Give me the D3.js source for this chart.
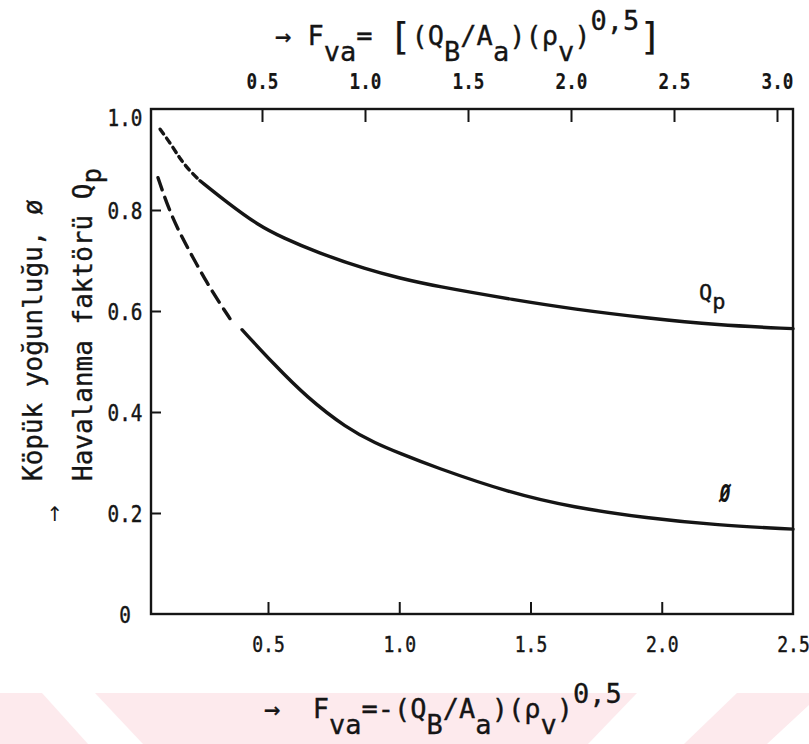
<!DOCTYPE html>
<html>
<head>
<meta charset="utf-8">
<script src="https://cdn.jsdelivr.net/npm/d3@7"></script>
<style>
  html, body { margin: 0; padding: 0; background: #fff; }
  svg { display: block; }
</style>
</head>
<body>
<script>
// ---- data -------------------------------------------------------------
const bottomTicks = [0.5, 1.0, 1.5, 2.0, 2.5];
const topTicks = [0.5, 1.0, 1.5, 2.0, 2.5, 3.0];
const yTicks = [0, 0.2, 0.4, 0.6, 0.8, 1.0];

// aeration factor Q_p : extrapolated (dashed) part, then measured (solid) part
const qpDashX = [0.089, 0.135, 0.165, 0.203, 0.241];
const qpDashY = [0.960, 0.927, 0.901, 0.877, 0.858];
const qpX = [0.241, 0.344, 0.462, 0.557, 0.687, 0.877, 1.003, 1.129, 1.449, 1.662, 1.944, 2.21, 2.5];
const qpY = [0.858, 0.815, 0.770, 0.745, 0.716, 0.682, 0.665, 0.650, 0.621, 0.604, 0.586, 0.572, 0.565];

// froth density ø : extrapolated (dashed) part, then measured (solid) part
const phiDashX = [0.081, 0.120, 0.165, 0.214, 0.267, 0.317, 0.355];
const phiDashY = [0.864, 0.804, 0.753, 0.706, 0.656, 0.615, 0.585];
const phiX = [0.401, 0.520, 0.648, 0.800, 0.910, 1.003, 1.129, 1.420, 1.662, 1.944, 2.210, 2.500];
const phiY = [0.563, 0.496, 0.429, 0.368, 0.338, 0.318, 0.292, 0.240, 0.211, 0.190, 0.176, 0.168];

// ---- setup ------------------------------------------------------------
const W = 809, H = 744;
const MONO = "'DejaVu Sans Mono', 'Liberation Mono', monospace";
const INK = "#151515";

const svg = d3.select("body").append("svg")
  .attr("width", W).attr("height", H)
  .attr("viewBox", `0 0 ${W} ${H}`);

svg.append("rect").attr("width", W).attr("height", H).attr("fill", "#fff");

// faint page watermark band along the bottom edge
const wm = svg.append("g");
wm.append("rect").attr("x", 0).attr("y", 693).attr("width", W).attr("height", H - 693)
  .attr("fill", "#fdeaed");
[
  [[42, 693], [95, 693], [143, 744], [88, 744]],
  [[637, 693], [737, 693], [684, 744], [588, 744]],
  [[822, 693], [905, 693], [852, 744], [767, 744]]
].forEach(p => wm.append("polygon").attr("points", p.map(d => d.join(",")).join(" ")).attr("fill", "#fff"));

const x = d3.scaleLinear().domain([0.5, 2.5]).range([268, 793]);
const xTop = d3.scaleLinear().domain([0.5, 3.0]).range([262, 777]);
const y = d3.scaleLinear().domain([0, 1]).range([614, 109]);

const boxL = 151, boxR = x(2.5), boxT = y(1), boxB = y(0);

// ---- frame ------------------------------------------------------------
svg.append("rect")
  .attr("x", boxL).attr("y", boxT)
  .attr("width", boxR - boxL).attr("height", boxB - boxT)
  .attr("fill", "none").attr("stroke", INK).attr("stroke-width", 2.4);

const fmt = d => d === 0 ? "0" : d3.format(".1f")(d);

// narrow typewriter look: squeeze glyphs horizontally around the tick centre
function styleTickText(sel, size, sx, extra) {
  sel.attr("font-family", MONO).attr("font-size", size).attr("fill", INK)
    .attr("stroke", INK).attr("stroke-width", 0.45)
    .attr("transform", `scale(${sx},1)`);
  if (extra) extra(sel);
}

// bottom axis
const gB = svg.append("g").attr("transform", `translate(0,${boxB})`)
  .call(d3.axisBottom(x).tickValues(bottomTicks).tickSize(-12).tickSizeOuter(0).tickPadding(22).tickFormat(fmt));
gB.select(".domain").remove();
gB.selectAll(".tick line").attr("stroke", INK).attr("stroke-width", 2)
  .filter(d => d === 2.5).remove();
styleTickText(gB.selectAll(".tick text"), 22, 0.82);

// top axis
const gT = svg.append("g").attr("transform", `translate(0,${boxT})`)
  .call(d3.axisTop(xTop).tickValues(topTicks).tickSize(-13).tickSizeOuter(0).tickPadding(20).tickFormat(fmt));
gT.select(".domain").remove();
gT.selectAll(".tick line").attr("stroke", INK).attr("stroke-width", 2);
styleTickText(gT.selectAll(".tick text"), 22, 0.8, s => s.attr("font-weight", "bold").attr("stroke-width", 0.2));

// left axis
const gL = svg.append("g").attr("transform", `translate(${boxL},0)`)
  .call(d3.axisLeft(y).tickValues(yTicks).tickSize(-10).tickSizeOuter(0).tickFormat(fmt));
gL.select(".domain").remove();
gL.selectAll(".tick line").attr("stroke", INK).attr("stroke-width", 2)
  .filter(d => d === 0 || d === 1).remove();
styleTickText(gL.selectAll(".tick text"), 23, 0.84, s => s
  .attr("text-anchor", "middle")
  .attr("x", (125 - boxL) / 0.84)
  .attr("dy", d => d === 1 ? "0.72em" : "0.36em"));

// ---- curves -----------------------------------------------------------
const line = d3.line().x(d => x(d[0])).y(d => y(d[1])).curve(d3.curveBasis);
const pts = (xs, ys) => xs.map((v, i) => [v, ys[i]]);

const curves = svg.append("g").attr("fill", "none").attr("stroke", INK)
  .attr("stroke-width", 3.4).attr("stroke-linecap", "round").attr("stroke-linejoin", "round");

curves.append("path").attr("d", line(pts(qpDashX, qpDashY))).attr("stroke-dasharray", "6,5");
curves.append("path").attr("d", line(pts(qpX, qpY)));
curves.append("path").attr("d", line(pts(phiDashX, phiDashY))).attr("stroke-dasharray", "13,8");
curves.append("path").attr("d", line(pts(phiX, phiY)));

// curve labels
const qpLab = svg.append("text").attr("font-family", MONO).attr("font-size", 22)
  .attr("fill", INK).attr("stroke", INK).attr("stroke-width", 0.4)
  .attr("x", 699).attr("y", 300);
qpLab.append("tspan").text("Q");
qpLab.append("tspan").attr("dy", 9).text("p");

svg.append("text").attr("font-family", MONO).attr("font-size", 25).attr("font-weight", "bold")
  .attr("font-style", "italic").attr("fill", INK)
  .attr("transform", "translate(725,502) scale(0.7,1)")
  .attr("text-anchor", "middle").text("Ø");

// ---- axis titles ------------------------------------------------------
// typewriter-style formula: base / subscript / superscript / tall bracket pieces
function formula(g, x0, yBase, parts, size) {
  const t = g.append("text").attr("font-family", MONO).attr("font-size", size)
    .attr("fill", INK).attr("stroke", INK).attr("stroke-width", 0.35)
    .attr("x", x0).attr("y", yBase)
    .style("white-space", "pre");
  const shift = { b: 0, s: 16, u: -15, k: 4 };
  let cur = 0;
  parts.forEach(([txt, kind]) => {
    const dy = shift[kind] - cur;
    cur = shift[kind];
    const ts = t.append("tspan").attr("dy", dy).text(txt);
    if (kind === "k") ts.attr("font-size", size * 1.4).attr("stroke-width", 0.2);
  });
  return t;
}

formula(svg, 275, 45, [
  ["→ F", "b"], ["va", "s"], ["= ", "b"], ["[", "k"], ["(Q", "b"], ["B", "s"], ["/A", "b"], ["a", "s"],
  [")(ρ", "b"], ["v", "s"], [")", "b"], ["0,5", "u"], ["]", "k"]
], 27);

formula(svg, 264, 718, [
  ["→  F", "b"], ["va", "s"], ["=-(Q", "b"], ["B", "s"], ["/A", "b"], ["a", "s"],
  [")(ρ", "b"], ["v", "s"], [")", "b"], ["0,5", "u"]
], 27);

// vertical titles
svg.append("text").attr("font-family", MONO).attr("font-size", 26).attr("fill", INK)
  .attr("stroke", INK).attr("stroke-width", 0.35)
  .attr("transform", "translate(42,481) rotate(-90)")
  .text("Köpük yoğunluğu, ø");

const yt2 = svg.append("text").attr("font-family", MONO).attr("font-size", 26).attr("fill", INK)
  .attr("stroke", INK).attr("stroke-width", 0.35)
  .attr("transform", "translate(92,481) rotate(-90)");
yt2.append("tspan").text("Havalanma faktörü Q");
yt2.append("tspan").attr("dy", 9).text("p");

svg.append("text").attr("font-family", "'DejaVu Sans', sans-serif").attr("font-size", 20)
  .attr("fill", INK).attr("x", 55).attr("y", 521).attr("text-anchor", "middle").text("↑");
</script>
</body>
</html>
